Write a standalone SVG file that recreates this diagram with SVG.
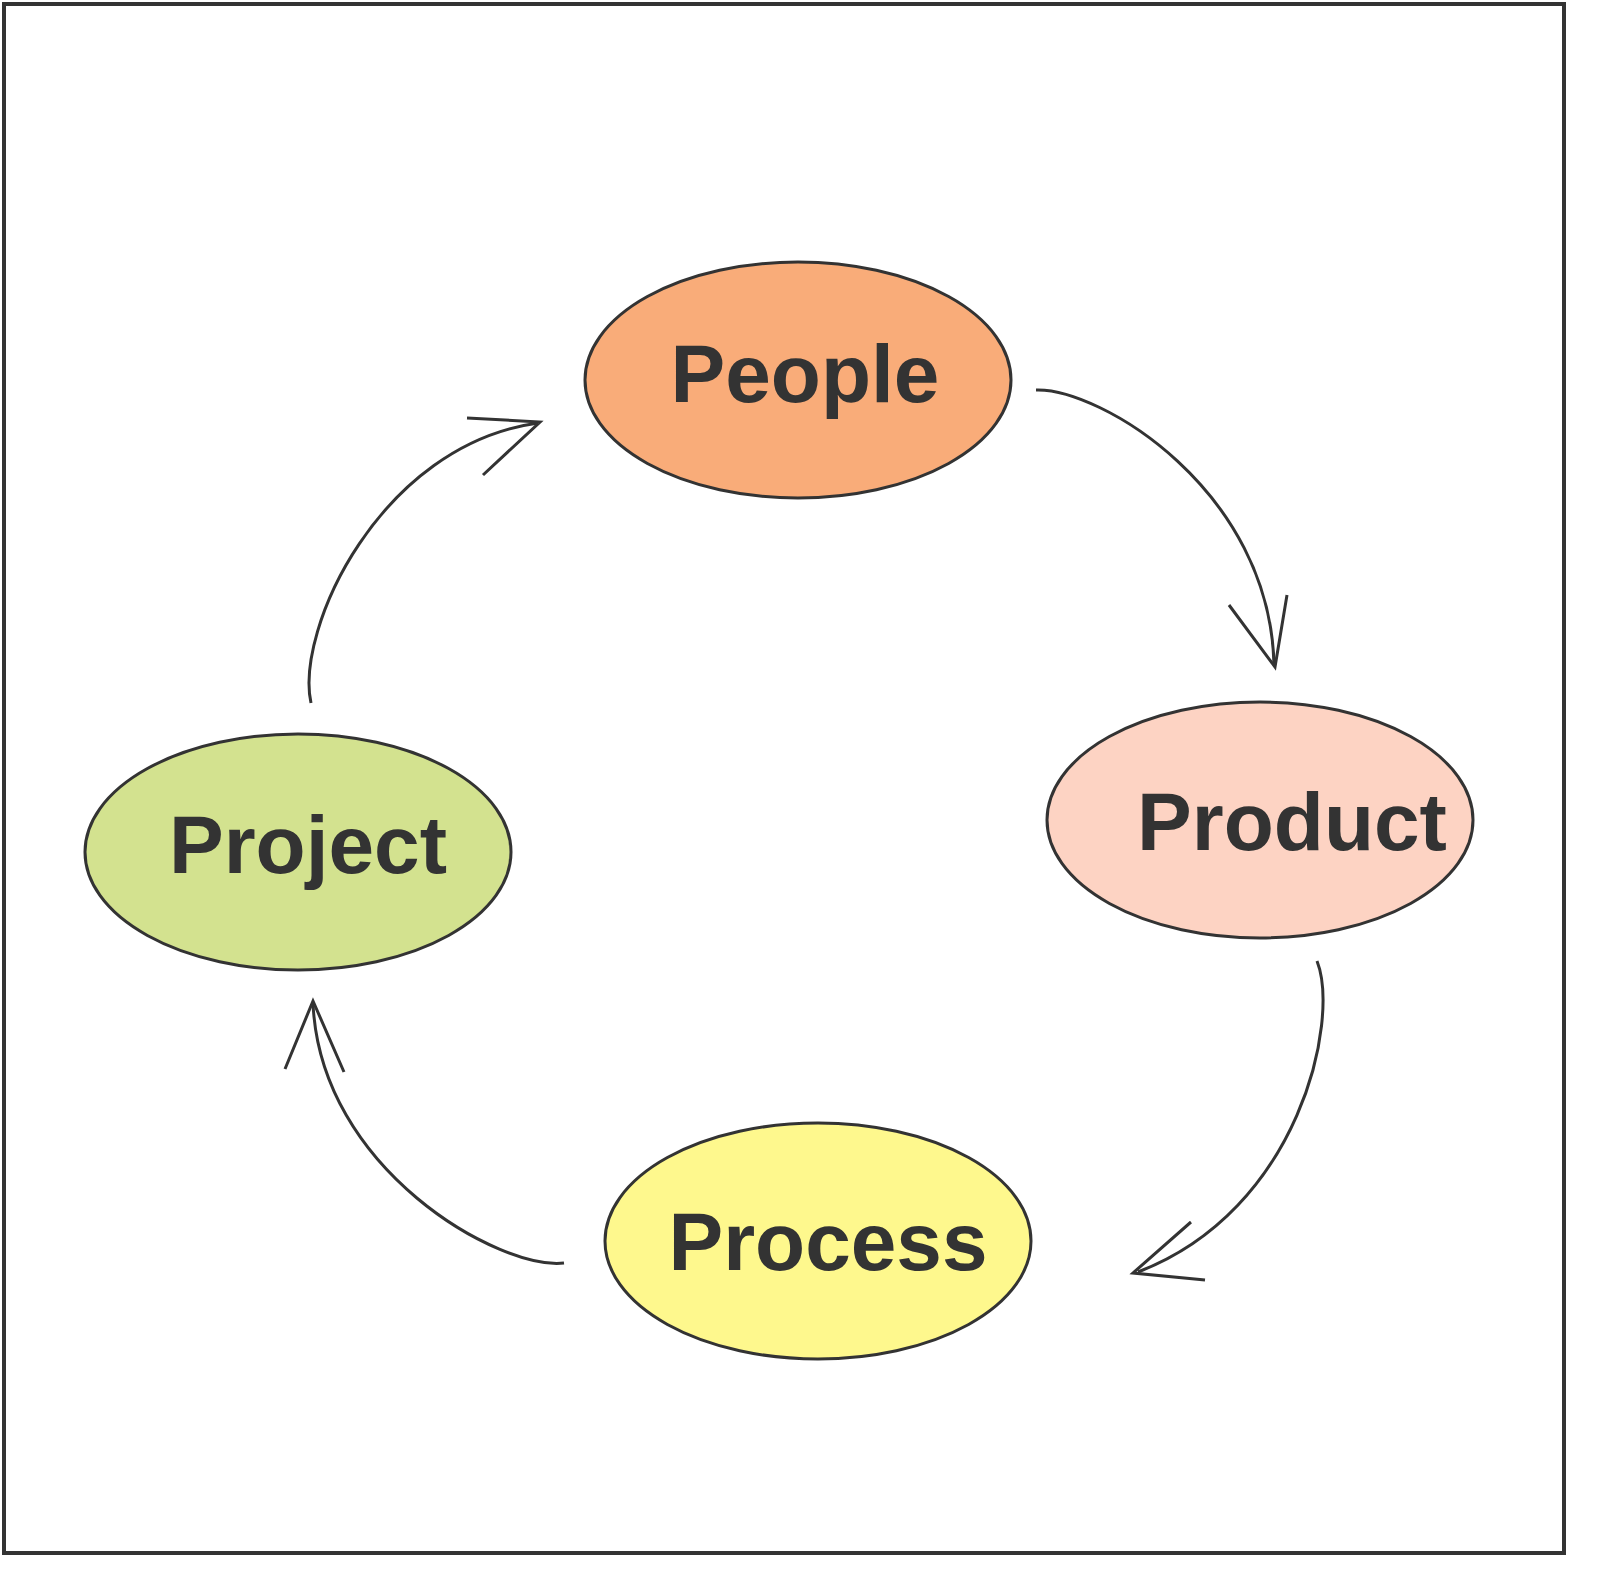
<svg xmlns="http://www.w3.org/2000/svg" width="1600" height="1589" viewBox="0 0 1600 1589">
<style>
.n{stroke:#333;stroke-width:3}
.t{font-family:"Liberation Sans",Arial,sans-serif;font-weight:bold;font-size:82px;fill:#333;text-anchor:middle}
.c{fill:none;stroke:#333;stroke-width:3}
</style>
<rect x="0" y="0" width="1600" height="1589" fill="#fff"/>
<rect x="4" y="4" width="1560" height="1549" fill="none" stroke="#333" stroke-width="4"/>
<g id="people"><ellipse class="n" cx="798" cy="380" rx="213" ry="118" fill="#F9AC79"/><text class="t" x="805" y="402">People</text></g>
<g id="product"><ellipse class="n" cx="1260" cy="820" rx="213" ry="118" fill="#FDD3C3"/><text class="t" x="1292" y="850">Product</text></g>
<g id="process"><ellipse class="n" cx="818" cy="1241" rx="213" ry="118" fill="#FEF88D"/><text class="t" x="828" y="1270">Process</text></g>
<g id="project"><ellipse class="n" cx="298" cy="852" rx="213" ry="118" fill="#D3E28F"/><text class="t" x="308" y="873">Project</text></g>
<g id="connectors">
<path class="c" d="M1036,390 C1100,388 1270,490 1274,665"/>
<polyline class="c" points="1229,605 1275,667 1287,595"/>
<path class="c" d="M1317,961 C1340,1020 1300,1210 1138,1272"/>
<polyline class="c" points="1191,1222 1133,1273 1205,1280"/>
<path class="c" d="M564,1263 C500,1270 320,1170 313,1003"/>
<polyline class="c" points="285,1069 313,1001 344,1072"/>
<path class="c" d="M311,703 C295,630 380,445 538,423"/>
<polyline class="c" points="467,418 540,422 483,475"/>
</g>
</svg>
